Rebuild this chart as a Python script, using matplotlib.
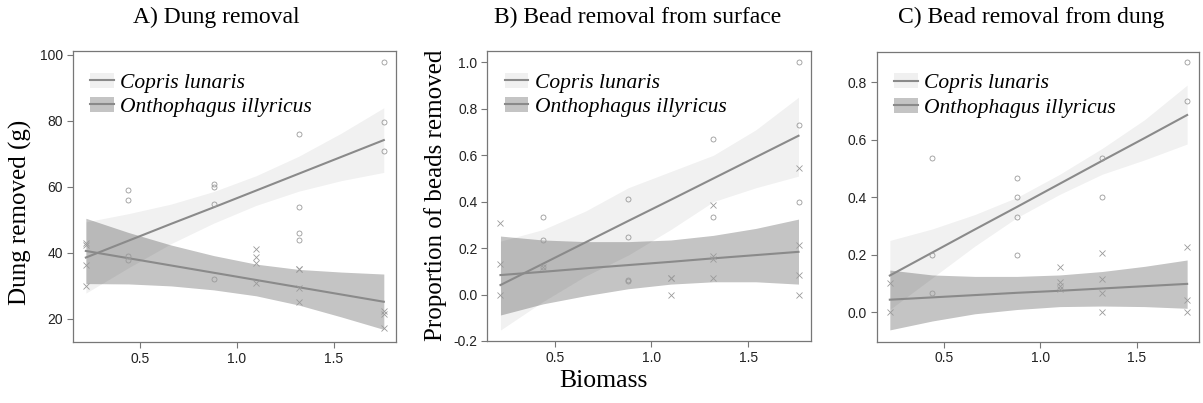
import numpy as np
import matplotlib
matplotlib.use('Agg')
import matplotlib.pyplot as plt
from matplotlib.patches import Patch
from matplotlib.lines import Line2D

plt.rcParams['font.family'] = ['Liberation Sans', 'DejaVu Sans']

fit_x = [0.22, 0.44, 0.66, 0.88, 1.10, 1.32, 1.54, 1.76]

# ---- A) Dung removal
a_cop_x = [0.44, 0.44, 0.44, 0.44, 0.88, 0.88, 0.88, 0.88, 1.32, 1.32, 1.32, 1.32, 1.76, 1.76, 1.76]
a_cop_y = [59.0, 56.0, 39.0, 37.9, 61.0, 60.0, 54.9, 32.1, 75.9, 53.9, 46.0, 43.9, 98.0, 79.8, 71.0]
a_ont_x = [0.22, 0.22, 0.22, 0.22, 1.10, 1.10, 1.10, 1.10, 1.32, 1.32, 1.32, 1.32, 1.76, 1.76, 1.76]
a_ont_y = [43.1, 42.3, 36.4, 30.1, 41.1, 38.9, 37.0, 30.9, 35.2, 35.0, 29.4, 25.0, 22.3, 21.6, 17.3]
a_cop_fit = [38.6, 43.7, 48.8, 53.8, 58.9, 64.0, 69.1, 74.2]
a_cop_hi = [49.4, 51.9, 54.8, 58.6, 63.4, 69.3, 76.3, 84.0]
a_cop_lo = [27.8, 35.5, 42.8, 49.0, 54.4, 58.7, 61.9, 64.4]
a_ont_fit = [40.6, 38.4, 36.2, 34.0, 31.8, 29.6, 27.4, 25.2]
a_ont_hi = [50.5, 46.2, 42.4, 39.2, 36.6, 35.0, 34.2, 33.6]
a_ont_lo = [30.7, 30.6, 30.0, 28.8, 27.0, 24.2, 20.6, 16.8]

# ---- B) Bead removal from surface
b_cop_x = [0.44, 0.44, 0.44, 0.88, 0.88, 0.88, 0.88, 1.32, 1.32, 1.76, 1.76, 1.76]
b_cop_y = [0.333, 0.234, 0.12, 0.41, 0.249, 0.063, 0.060, 0.668, 0.333, 1.0, 0.731, 0.40]
b_ont_x = [0.22, 0.22, 0.22, 0.44, 1.10, 1.10, 1.10, 1.32, 1.32, 1.32, 1.32, 1.76, 1.76, 1.76, 1.76]
b_ont_y = [0.307, 0.132, 0.0, 0.12, 0.073, 0.070, 0.0, 0.386, 0.166, 0.153, 0.07, 0.546, 0.213, 0.084, 0.0]
b_cop_fit = [0.041, 0.133, 0.225, 0.317, 0.408, 0.500, 0.592, 0.684]
b_cop_hi = [0.23, 0.28, 0.36, 0.46, 0.53, 0.60, 0.71, 0.85]
b_cop_lo = [-0.153, -0.03, 0.08, 0.17, 0.28, 0.40, 0.46, 0.51]
b_ont_fit = [0.084, 0.098, 0.113, 0.127, 0.141, 0.156, 0.170, 0.184]
b_ont_hi = [0.252, 0.235, 0.228, 0.228, 0.235, 0.255, 0.285, 0.325]
b_ont_lo = [-0.088, -0.040, -0.005, 0.025, 0.045, 0.055, 0.055, 0.045]

# ---- C) Bead removal from dung
c_cop_x = [0.44, 0.44, 0.44, 0.88, 0.88, 0.88, 0.88, 1.32, 1.32, 1.76, 1.76]
c_cop_y = [0.536, 0.198, 0.066, 0.468, 0.40, 0.333, 0.198, 0.536, 0.40, 0.87, 0.734]
c_ont_x = [0.22, 0.22, 1.10, 1.10, 1.10, 1.10, 1.32, 1.32, 1.32, 1.32, 1.76, 1.76, 1.76]
c_ont_y = [0.101, 0.0, 0.159, 0.106, 0.092, 0.080, 0.205, 0.116, 0.066, 0.0, 0.226, 0.044, 0.0]
c_cop_fit = [0.128, 0.208, 0.288, 0.367, 0.447, 0.527, 0.606, 0.686]
c_cop_hi = [0.25, 0.29, 0.34, 0.40, 0.48, 0.57, 0.67, 0.79]
c_cop_lo = [0.01, 0.12, 0.23, 0.33, 0.41, 0.48, 0.53, 0.585]
c_ont_fit = [0.044, 0.052, 0.060, 0.068, 0.075, 0.083, 0.091, 0.099]
c_ont_hi = [0.147, 0.130, 0.125, 0.125, 0.130, 0.142, 0.160, 0.182]
c_ont_lo = [-0.061, -0.030, -0.005, 0.010, 0.020, 0.022, 0.020, 0.014]

titles = ['A) Dung removal', 'B) Bead removal from surface', 'C) Bead removal from dung']
title_x = [216, 638, 1031]

light = '#f0f0f0'
dark = '#c4c4c4'
linec = '#8a8a8a'
ptc = '#9a9a9a'
serif = 'Liberation Serif'

W, H = 1203, 403
fig = plt.figure(figsize=(W / 100, H / 100), dpi=100)


def px_axes(l, t, r, b):
    return fig.add_axes([l / W, 1 - b / H, (r - l) / W, (b - t) / H])


axA = px_axes(72.7, 51, 396, 342)
axB = px_axes(487.3, 51, 810.7, 341)
axC = px_axes(876.7, 51.7, 1199.3, 341.7)

panels = [
    (axA, a_cop_x, a_cop_y, a_ont_x, a_ont_y, a_cop_fit, a_cop_hi, a_cop_lo, a_ont_fit, a_ont_hi, a_ont_lo),
    (axB, b_cop_x, b_cop_y, b_ont_x, b_ont_y, b_cop_fit, b_cop_hi, b_cop_lo, b_ont_fit, b_ont_hi, b_ont_lo),
    (axC, c_cop_x, c_cop_y, c_ont_x, c_ont_y, c_cop_fit, c_cop_hi, c_cop_lo, c_ont_fit, c_ont_hi, c_ont_lo),
]

for ax, cx, cy, ox, oy, cf, ch, cl, of, oh, ol in panels:
    ax.fill_between(fit_x, cl, ch, color='black', alpha=0.055, lw=0)
    ax.fill_between(fit_x, ol, oh, color='black', alpha=0.23, lw=0)
    ax.plot(fit_x, cf, color=linec, lw=1.5)
    ax.plot(fit_x, of, color=linec, lw=1.5)
    ax.plot(cx, cy, 'o', mfc='none', mec=ptc, ms=3.6, mew=0.6)
    ax.plot(ox, oy, 'x', color=ptc, ms=3.8, mew=0.6)
    ax.set_xlim(0.152, 1.823)
    ax.set_xticks([0.5, 1.0, 1.5])
    ax.set_xticklabels(['0.5', '1.0', '1.5'])
    for s in ax.spines.values():
        s.set_color('#777777')
        s.set_linewidth(0.9)
    ax.tick_params(direction='out', length=4, width=0.8, color='#777777',
                   labelsize=10, labelcolor='#222222', pad=3)
    h1 = (Patch(facecolor=light, edgecolor='none'), Line2D([], [], color=linec, lw=1.5))
    h2 = (Patch(facecolor=dark, edgecolor='none'), Line2D([], [], color=linec, lw=1.5))
    ax.legend([h1, h2], ['Copris lunaris', 'Onthophagus illyricus'], loc='upper left',
              bbox_to_anchor=(0.0, 0.985), frameon=False, handlelength=1.1,
              handletextpad=0.3, labelspacing=0.2, borderaxespad=0.4,
              prop={'family': serif, 'style': 'italic', 'size': 15.5})

axA.set_ylim(13.0, 101.2)
axA.set_yticks([20, 40, 60, 80, 100])
axB.set_ylim(-0.2, 1.049)
axB.set_yticks([-0.2, 0.0, 0.2, 0.4, 0.6, 0.8, 1.0])
axB.set_yticklabels(['-0.2', '0.0', '0.2', '0.4', '0.6', '0.8', '1.0'])
axC.set_ylim(-0.102, 0.906)
axC.set_yticks([0.0, 0.2, 0.4, 0.6, 0.8])
axC.set_yticklabels(['0.0', '0.2', '0.4', '0.6', '0.8'])

fig.text(20 / W, 1 - 212 / H, 'Dung removed (g)', family=serif, fontsize=18,
         rotation=90, ha='center', va='center')
fig.text(436 / W, 1 - 195 / H, 'Proportion of beads removed', family=serif, fontsize=18,
         rotation=90, ha='center', va='center')
fig.text(603 / W, 1 - 381 / H, 'Biomass', family=serif, fontsize=18.5,
         ha='center', va='center')

for t, x in zip(titles, title_x):
    fig.text(x / W, 1 - 17 / H, t, family=serif, fontsize=17, ha='center', va='center')

fig.savefig('out.png', dpi=100)
